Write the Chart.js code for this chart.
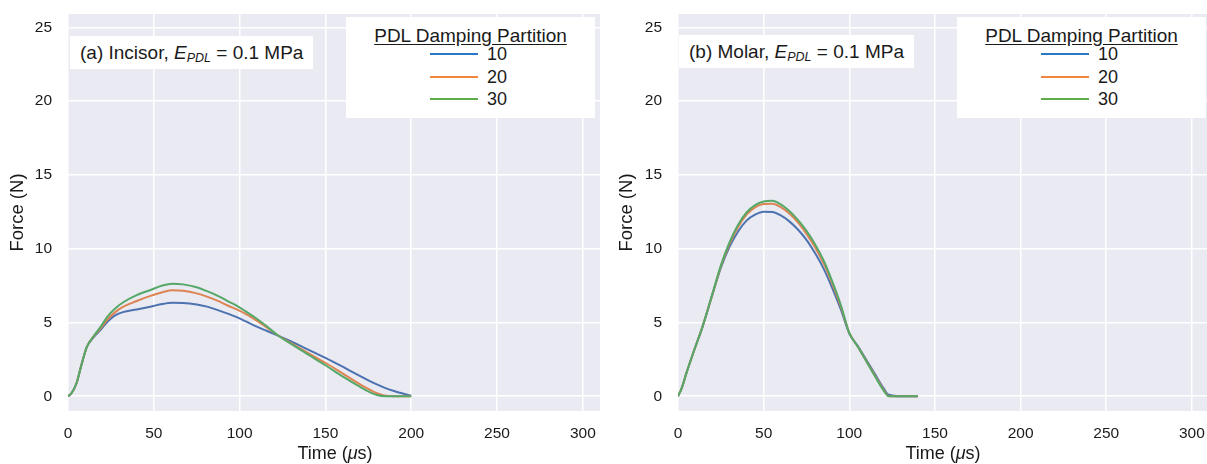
<!DOCTYPE html>
<html>
<head>
<meta charset="utf-8">
<script src="https://cdn.jsdelivr.net/npm/chart.js"></script>
<style>
    body { margin: 0; width: 1207px; height: 464px; overflow: hidden; background: #fff; position: relative;
           font-family: "Liberation Sans", Arial, sans-serif; color: #1a1a1a; }
    .panel { position: absolute; top: 0; height: 464px; }
    .note { position: absolute; background: #fff; font-size: 19px; padding: 6px 10px 6px 10px; white-space: nowrap; line-height: 21px; }
    .note sub { font-size: 12.5px; font-style: italic; vertical-align: -3px; line-height: 0; }
    .legend { position: absolute; background: #fff; width: 249px; height: 101px; }
    .legend .ttl { position: absolute; left: 0; width: 100%; top: 8px; text-align: center; font-size: 19px; text-decoration: underline; text-underline-offset: 2px; }
    .legend .row { position: absolute; left: 0; width: 100%; height: 20px; }
    .legend .sw { position: absolute; left: 84px; width: 48px; top: 9px; height: 2px; }
    .legend .lb { position: absolute; left: 141px; top: 0; font-size: 18px; line-height: 20px; }
    .xtitle { position: absolute; top: 443px; font-size: 18px; line-height: 20px; transform: translateX(-50%); white-space: nowrap; }
</style>
</head>
<body>
<div class="panel" style="left:0;width:615px"><canvas id="chartIncisor" width="615" height="464"></canvas></div>
<div class="panel" style="left:609px;width:600px"><canvas id="chartMolar" width="600" height="464"></canvas></div>

<div class="note" style="left:70px;top:36px">(a) Incisor, <i>E</i><sub>PDL</sub> = 0.1 MPa</div>
<div class="note" style="left:679px;top:35px">(b) Molar, <i>E</i><sub>PDL</sub> = 0.1 MPa</div>

<div class="legend" id="legendIncisor" style="left:346px;top:17px"></div>
<div class="legend" id="legendMolar" style="left:957px;top:17px"></div>

<div class="xtitle" style="left:335px">Time (<i>μ</i>s)</div>
<div class="xtitle" style="left:943px">Time (<i>μ</i>s)</div>

<script>
// tick labels
const xTicks = [0, 50, 100, 150, 200, 250, 300];
const yTicks = [0, 5, 10, 15, 20, 25];

// legend
const legendTitle = 'PDL Damping Partition';
const partitions = ['10', '20', '30'];
const lineColors = ['#4c72b0', '#dd8452', '#55a868'];
const legendColors = ['#2a78c6', '#f0853f', '#5fad4a'];

// (a) incisor, time in microseconds
const incisorTime = [0, 2, 5, 8, 11, 15, 19, 23, 27, 32, 40, 48, 55, 61, 67, 75, 81, 87, 93, 98, 104, 110, 116, 122, 130, 140, 150, 160, 170, 175, 180, 185, 190, 200];
const incisor10 = [0, 0.2, 0.9, 2.2, 3.35, 4.0, 4.5, 5.05, 5.45, 5.7, 5.88, 6.07, 6.25, 6.33, 6.32, 6.22, 6.07, 5.85, 5.6, 5.38, 5.05, 4.72, 4.42, 4.12, 3.72, 3.16, 2.6, 2.0, 1.38, 1.08, 0.8, 0.55, 0.35, 0.03];
const incisor20 = [0, 0.2, 0.9, 2.2, 3.35, 4.05, 4.6, 5.2, 5.65, 6.05, 6.45, 6.8, 7.05, 7.18, 7.15, 6.97, 6.75, 6.48, 6.15, 5.9, 5.55, 5.12, 4.65, 4.15, 3.6, 2.92, 2.27, 1.55, 0.82, 0.5, 0.2, 0.03, 0, 0];
const incisor30 = [0, 0.2, 0.9, 2.2, 3.35, 4.08, 4.7, 5.4, 5.9, 6.35, 6.85, 7.2, 7.5, 7.63, 7.58, 7.38, 7.12, 6.82, 6.45, 6.15, 5.72, 5.25, 4.72, 4.15, 3.55, 2.82, 2.1, 1.35, 0.65, 0.33, 0.08, 0, 0, 0];

// (b) molar
const molarTime = [0, 2, 5, 10, 14, 20, 25, 30, 35, 40, 45, 50, 55, 60, 65, 70, 75, 80, 85, 90, 95, 100, 105, 110, 115, 120, 123, 130, 140];
const molar10 = [0, 0.5, 1.6, 3.3, 4.6, 6.85, 8.7, 10.1, 11.15, 11.9, 12.3, 12.5, 12.48, 12.25, 11.85, 11.3, 10.6, 9.7, 8.65, 7.35, 5.9, 4.25, 3.4, 2.45, 1.5, 0.55, 0.1, 0, 0];
const molar20 = [0, 0.5, 1.6, 3.3, 4.6, 6.88, 8.8, 10.3, 11.45, 12.3, 12.8, 13.02, 13.05, 12.82, 12.38, 11.78, 11.0, 10.1, 9.0, 7.65, 6.1, 4.3, 3.35, 2.38, 1.4, 0.45, 0.02, 0, 0];
const molar30 = [0, 0.5, 1.6, 3.3, 4.6, 6.9, 8.85, 10.4, 11.6, 12.45, 12.95, 13.2, 13.25, 13.0, 12.55, 11.95, 11.2, 10.3, 9.2, 7.8, 6.2, 4.3, 3.35, 2.35, 1.35, 0.4, 0, 0, 0];

const FONT = '"Liberation Sans", Arial, sans-serif';

const plotBackground = {
    id: 'plotBackground',
    beforeDraw(chart) {
        const a = chart.chartArea;
        const ctx = chart.ctx;
        ctx.save();
        ctx.fillStyle = '#eaeaf2';
        ctx.fillRect(a.left, a.top, a.right - a.left, a.bottom - a.top);
        ctx.restore();
    }
};

function makeDataset(label, times, values, color, index) {
    return {
        label: label,
        data: times.map((t, i) => ({ x: t, y: values[i] })),
        borderColor: color,
        backgroundColor: color,
        borderWidth: 2,
        pointRadius: 0,
        fill: false,
        order: 2 - index, // later partitions drawn on top
        cubicInterpolationMode: 'monotone'
    };
}

function makeChart(canvasId, times, series, xMax, yAxisWidth, padRight) {
    return new Chart(document.getElementById(canvasId), {
        type: 'line',
        data: {
            datasets: series.map((s, i) => makeDataset(partitions[i], times, s, lineColors[i], i))
        },
        options: {
            responsive: false,
            animation: false,
            events: [],
            layout: { padding: { top: 14, right: padRight, bottom: 0, left: 0 } },
            plugins: { legend: { display: false }, tooltip: { enabled: false } },
            scales: {
                x: {
                    type: 'linear',
                    min: 0,
                    max: xMax,
                    afterBuildTicks: axis => { axis.ticks = xTicks.map(v => ({ value: v })); },
                    afterFit: axis => { axis.height = 53; axis.paddingLeft = 0; axis.paddingRight = 0; },
                    grid: { color: '#ffffff', lineWidth: 1.5, drawTicks: false },
                    border: { display: false },
                    ticks: { color: '#1a1a1a', font: { family: FONT, size: 15.5 }, padding: 13, maxRotation: 0 }
                },
                y: {
                    min: -1,
                    max: 25.9,
                    afterBuildTicks: axis => { axis.ticks = yTicks.map(v => ({ value: v })); },
                    afterFit: axis => { axis.width = yAxisWidth; axis.paddingTop = 0; axis.paddingBottom = 0; },
                    grid: { color: '#ffffff', lineWidth: 1.5, drawTicks: false },
                    border: { display: false },
                    ticks: { color: '#1a1a1a', font: { family: FONT, size: 15.5 }, padding: 16 },
                    title: { display: true, text: 'Force (N)', color: '#1a1a1a', font: { family: FONT, size: 18.5 }, padding: { top: 7, bottom: 0 } }
                }
            }
        },
        plugins: [plotBackground]
    });
}

function buildLegend(el) {
    let html = '<div class="ttl">' + legendTitle + '</div>';
    const rowCenters = [37, 60, 82];
    partitions.forEach((p, i) => {
        html += '<div class="row" style="top:' + (rowCenters[i] - 10) + 'px">' +
                '<div class="sw" style="background:' + legendColors[i] + '"></div>' +
                '<div class="lb">' + p + '</div></div>';
    });
    el.innerHTML = html;
}

window.addEventListener('load', function () {
    makeChart('chartIncisor', incisorTime, [incisor10, incisor20, incisor30], 310, 68, 15);
    makeChart('chartMolar', molarTime, [molar10, molar20, molar30], 310, 69, 0);
    buildLegend(document.getElementById('legendIncisor'));
    buildLegend(document.getElementById('legendMolar'));
});
</script>
</body>
</html>
